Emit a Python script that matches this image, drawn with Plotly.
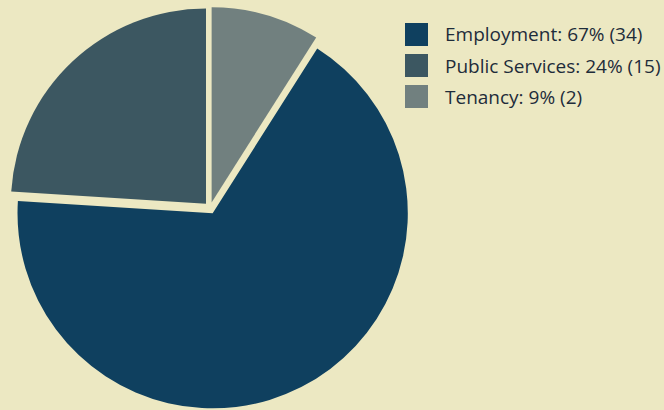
import plotly.graph_objects as go

categories = ["Employment", "Public Services", "Tenancy"]
percent = [67, 24, 9]
counts = [34, 15, 2]
colors = ["#0f405f", "#3c5761", "#71807f"]
bg = "#ece8c2"

W, H = 664, 410

fig = go.Figure(go.Pie(
    labels=categories,
    values=percent,
    sort=False,
    direction="clockwise",
    rotation=360 * percent[2] / sum(percent),
    pull=[0.03, 0.03, 0.03],
    marker=dict(colors=colors, line=dict(width=0)),
    textinfo="none",
    hoverinfo="label+percent",
    showlegend=False,
    domain=dict(x=[9 / W, 411 / W], y=[1 - 410 / H, 1 - 6 / H]),
))

shapes = []
annotations = []
x0 = 405
y_top = 23
step = 31
sq = 23
for i, (c, p, n) in enumerate(zip(categories, percent, counts)):
    y0 = y_top + i * step
    shapes.append(dict(type="rect", xref="paper", yref="paper",
                       x0=x0 / W, x1=(x0 + sq) / W,
                       y0=1 - y0 / H, y1=1 - (y0 + sq) / H,
                       fillcolor=colors[i], line=dict(width=0)))
    annotations.append(dict(xref="paper", yref="paper",
                            x=443 / W, y=1 - (y0 + sq / 2) / H,
                            xanchor="left", yanchor="middle",
                            text=f"{c}: {p}% ({n})", showarrow=False,
                            font=dict(family="Open Sans", size=19, color="#1e2c3a")))

fig.update_layout(
    width=W, height=H,
    margin=dict(l=0, r=0, t=0, b=0),
    paper_bgcolor=bg, plot_bgcolor=bg,
    shapes=shapes, annotations=annotations,
)

fig.write_html("out.html",
               config={"displayModeBar": False},
               post_script="document.body.style.margin='0';document.body.style.background='%s';" % bg)
